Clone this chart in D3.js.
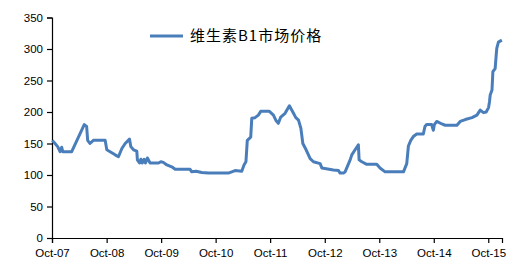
<!DOCTYPE html>
<html>
<head>
<meta charset="utf-8">
<script src="https://cdn.jsdelivr.net/npm/d3@7"></script>
<style>
  body { margin: 0; background: #fff; }
</style>
</head>
<body>
<div id="chart"></div>
<script>
var seriesName = '维生素B1市场价格';

var dates = [
  '2007-10-03', '2007-10-21', '2007-11-08', '2007-11-24', '2007-12-05', '2007-12-12',
  '2008-02-10', '2008-05-04', '2008-05-20', '2008-05-27', '2008-06-11', '2008-07-04',
  '2008-09-21', '2008-10-02', '2008-10-24', '2008-11-27', '2008-12-19', '2009-01-11',
  '2009-02-02', '2009-03-03', '2009-03-12', '2009-03-30', '2009-04-21', '2009-04-25',
  '2009-05-09', '2009-05-18', '2009-05-27', '2009-06-09', '2009-06-18', '2009-07-01',
  '2009-07-19', '2009-09-13', '2009-09-29', '2009-10-16', '2009-11-08', '2009-12-11',
  '2010-01-03', '2010-04-13', '2010-04-24', '2010-05-23', '2010-06-30', '2010-08-13',
  '2010-12-25', '2011-01-17', '2011-02-08', '2011-03-25', '2011-04-09', '2011-04-22',
  '2011-05-01', '2011-05-24', '2011-05-31', '2011-06-22', '2011-07-14', '2011-07-30',
  '2011-09-26', '2011-10-23', '2011-11-08', '2011-11-25', '2011-12-11', '2012-01-09',
  '2012-02-07', '2012-03-01', '2012-03-21', '2012-04-08', '2012-04-24', '2012-05-07',
  '2012-05-29', '2012-06-25', '2012-07-17', '2012-08-31', '2012-09-12', '2012-11-28',
  '2013-01-01', '2013-01-12', '2013-02-03', '2013-02-14', '2013-03-20', '2013-03-31',
  '2013-04-22', '2013-05-14', '2013-05-19', '2013-06-06', '2013-07-09', '2013-09-14',
  '2013-10-06', '2013-11-09', '2014-03-12', '2014-04-03', '2014-04-14', '2014-04-30',
  '2014-05-17', '2014-06-09', '2014-07-23', '2014-08-03', '2014-08-14', '2014-09-17',
  '2014-09-28', '2014-10-05', '2014-10-21', '2014-11-24', '2014-12-16', '2015-03-05',
  '2015-03-27', '2015-04-30', '2015-06-14', '2015-07-17', '2015-08-08', '2015-08-30',
  '2015-09-17', '2015-10-03', '2015-10-09', '2015-10-14', '2015-10-26', '2015-11-01',
  '2015-11-16', '2015-11-23', '2015-11-27', '2015-12-08', '2015-12-31'
];

var prices = [
  155, 150, 145, 137, 144, 137,
  137, 180, 177, 155, 150, 155,
  155, 140, 137, 132, 129, 142,
  150, 157, 145, 140, 138, 124,
  119, 125, 119, 125, 119, 127,
  119, 119, 121, 120, 116, 113,
  109, 109, 105, 106, 104, 103,
  103, 105, 107, 106, 116, 121,
  155, 160, 190, 191, 195, 201,
  201, 195, 187, 182, 192, 198,
  210, 200, 191, 187, 174, 150,
  140, 126, 121, 118, 111, 108,
  107, 103, 103, 105, 124, 132,
  140, 148, 124, 121, 117, 117,
  111, 105, 105, 118, 146, 155,
  161, 165, 165, 177, 180, 180,
  171, 180, 185, 181, 179, 179,
  185, 188, 191, 195, 203, 199,
  200, 207, 216, 227, 235, 264,
  269, 290, 301, 311, 314
];

var yTicks = [0, 50, 100, 150, 200, 250, 300, 350];
var xTickYears = [2007, 2008, 2009, 2010, 2011, 2012, 2013, 2014, 2015];

var w = 526;
var h = 270;
var padL = 52, padR = 502, padT = 17.5, padB = 238;
var blue = '#4a7ebb';
var font = '"Liberation Sans", Arial, sans-serif';

var parse = d3.timeParse('%Y-%m-%d');
var data = dates.map(function(d, i) { return { date: parse(d), value: prices[i] }; });

var svg = d3.select('#chart').append('svg')
  .attr('width', w)
  .attr('height', h);

var x = d3.scaleTime()
  .domain([new Date(2007, 9, 1), new Date(2016, 0, 1)])
  .range([padL, padR]);

var y = d3.scaleLinear()
  .domain([0, 350])
  .range([padB, padT]);

var fmt = d3.timeFormat('%b-%y');

var xAxis = svg.append('g')
  .attr('transform', 'translate(0,' + padB + ')')
  .call(d3.axisBottom(x)
    .tickValues(xTickYears.map(function(yr) { return new Date(yr, 9, 1); }))
    .tickFormat(fmt)
    .tickSizeOuter(0)
    .tickSize(5)
    .tickPadding(6));

var yAxis = svg.append('g')
  .attr('transform', 'translate(' + padL + ',0)')
  .call(d3.axisLeft(y)
    .tickValues(yTicks)
    .tickSizeOuter(0)
    .tickSize(5)
    .tickPadding(4));

[xAxis, yAxis].forEach(function(a) {
  a.select('.domain').attr('stroke', '#000').attr('stroke-width', 1.2);
  a.selectAll('.tick line').attr('stroke', '#000').attr('stroke-width', 1.2);
  a.selectAll('.tick text')
    .attr('fill', '#000')
    .style('font-family', font)
    .style('font-size', '11.5px');
});

var line = d3.line()
  .x(function(d) { return x(d.date); })
  .y(function(d) { return y(d.value); });

svg.append('path')
  .datum(data)
  .attr('fill', 'none')
  .attr('stroke', blue)
  .attr('stroke-width', 3)
  .attr('stroke-linejoin', 'round')
  .attr('d', line);

// legend
var lg = svg.append('g');
lg.append('line')
  .attr('x1', 150)
  .attr('x2', 183)
  .attr('y1', 36)
  .attr('y2', 36)
  .attr('stroke', blue)
  .attr('stroke-width', 3);
lg.append('text')
  .attr('x', 190)
  .attr('y', 41)
  .attr('fill', '#000')
  .style('font-family', '"Noto Sans CJK SC", sans-serif')
  .style('font-size', '15px')
  .style('letter-spacing', '1px')
  .text(seriesName);
</script>
</body>
</html>
